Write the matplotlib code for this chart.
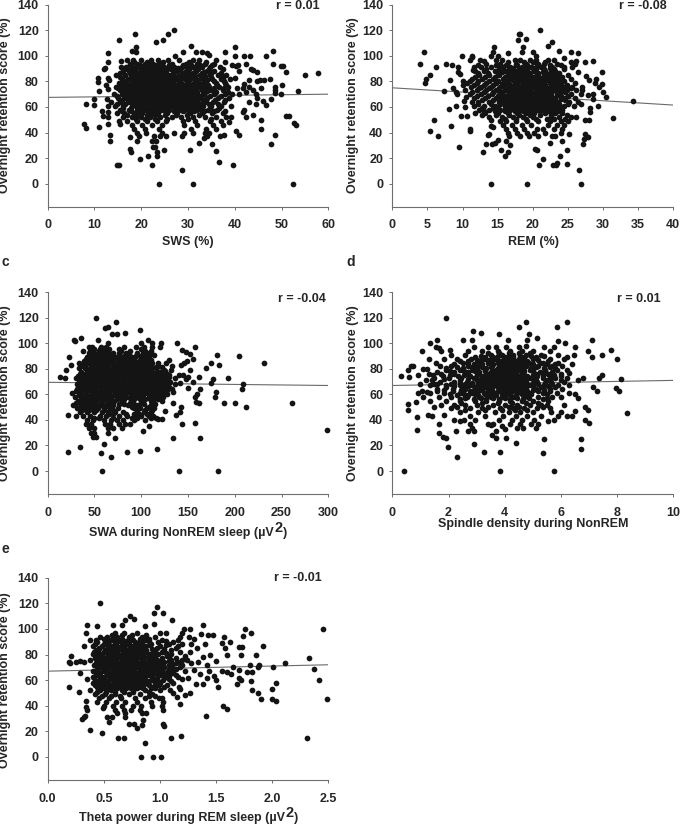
"""Five scatter panels: overnight retention score against sleep measures."""

import matplotlib
matplotlib.use("Agg")
import matplotlib.pyplot as plt

W, H = 680, 825
INK = "#262626"
AXIS = "#6e6e6e"

plt.rcParams.update({
    "font.family": ["Liberation Sans", "DejaVu Sans"],
    "font.weight": "bold",
    "font.size": 9,
    "axes.spines.top": False,
    "axes.spines.right": False,
})

Y_TICKS = [0, 20, 40, 60, 80, 100, 120, 140]

# scattered points as (x, y), dense clouds as (y, [x, ...]) rows
sws_pts = [(7.8,47),(8.2,43.5),(8.2,62.5),(10,66),(9.9,61.5),(10.7,83),(10.8,79.5),(10.9,72.5),(11,44.5),(11.7,57),
    (11.8,53),(12,90),(12.2,90.5),(12.7,66),(12.8,61),(12.5,77),(12.8,74),(12.9,56),(12.9,46.5),(13,52),(13,102),
    (13,95),(13,83),(13.2,81),(13.3,38),(13.3,33.5),(14.7,85),(14.8,14.5),(15.2,112.5),(15.3,15),(15.4,46.5),
    (15.6,96),(15.6,91),(17.5,36.5),(17.5,27),(17.8,25),(18,104),(18.7,117),(18.8,107),(18.8,103),(19.8,19),
    (21.5,22),(22.4,15),(23.4,24.5),(23.3,21.5),(23.2,110.5),(24.7,112.5),(24.9,26),(25.8,117),(27,120),(27.3,100),
    (28.7,11),(29,103),(30.5,26),(30.7,108),(23.7,0),(31.1,0),(52.4,0),(31.8,103),(32.4,32),(33,103),(33.4,36),
    (34,102),(34.5,101),(35.1,31),(36,25.5),(36.7,17),(38,103),(39.7,15),(40,100),(40.1,107),(40.3,41),(41,38),
    (42,100),(43.2,100),(42.3,94),(40.7,93),(38,95),(36,97),(46.7,100),(47.7,31),(48.1,94),(48.2,103.5),(48.5,38),
    (45.7,43),(45.7,50),(49.8,92),(50.4,92),(50,77.5),(49.9,70),(51,87),(50.9,53),(51.5,53),(52.7,47.5),(53.2,46),
    (53.5,72.5),(55,85),(57.8,86.5),(47.7,66.5),(46.7,61.5),(46,65),(47.5,82),(48.5,76),(48.7,73),(48.7,71),
    (45.6,75),(44.7,80),(45.5,81),(46.3,81),(44,89),(44.7,87),(43.4,90),(43,76),(43,81),(44,73),(44.5,70),(44.8,67),
    (44.5,62),(44,54),(42.5,52),(43,64),(42,58),(41.7,56),(41.8,75),(41,70),(40.5,75),(40,83),(39.5,70),(39.5,93),
    (39.3,52),(38.8,48),(38.2,52),(37.5,46),(37.8,38),(36.8,37),(41,88),(40.3,92),(42,78),(42.5,72)]
sws_rows = [
    (97, [17, 18.2, 20, 22, 23.6, 25.8, 28, 31, 32.4]),
    (95.5, [18.5, 21.2, 24.7, 30.2, 33.8]),
    (94, [17.6, 19, 20.8, 22.5, 24.3, 26.6, 29.5, 32, 33.6, 35.5]),
    (92.5, [17.8, 19.8, 21.8, 23.4, 26, 29, 30.6, 32.6, 35.2]),
    (91, [16.7, 18, 19.4, 21, 23, 24.8, 27, 28.8, 31, 33, 34.8, 36.8]),
    (89.5, [17, 18.7, 20.5, 22.3, 24.2, 26.3, 28.2, 30.3, 32.2, 34.4, 37.5]),
    (88, [16, 17.3, 18.6, 20, 21.6, 23.5, 25.4, 27.6, 30, 31.8, 34, 35.5]),
    (86.5, [15.5, 17.5, 19, 20.8, 22.4, 24.7, 26.7, 28.8, 31, 33, 35, 37]),
    (85, [16.6, 17.9, 19.2, 20.6, 22, 24, 26, 28.4, 30.6, 32.6, 34.6, 36.5, 38.2]),
    (83.5, [15.5, 17.9, 19.2, 20.9, 22.4, 23.9, 25.6, 27.2, 29, 30.8, 32.9, 34.9, 37.4]),
    (82, [15.8, 17.2, 18.4, 19.8, 21.2, 22.8, 24.8, 26.4, 27.8, 29.4, 31.2, 33.2, 35.2, 37, 39]),
    (80.5, [16.2, 18, 19.4, 20.9, 22.3, 23.7, 25.2, 26.7, 28.1, 29.7, 31.5, 33.5, 35.6, 37.8]),
    (79, [15.2, 16.6, 18, 19.2, 20.6, 22.2, 23.6, 25.2, 26.8, 28.4, 30, 31.8, 33.8, 36, 38]),
    (77.5, [15.7, 17.2, 18.6, 20, 21.4, 22.7, 24, 25.3, 26.5, 27.9, 29.3, 30.7, 32.5, 34.2, 36.2, 38.2]),
    (76, [14.6, 16, 17.4, 18.8, 20.2, 21.6, 23, 24.4, 25.8, 27.2, 28.8, 30.4, 32.2, 34.4, 36.6, 38.6]),
    (74.5, [15, 16.6, 18, 19.3, 20.6, 21.9, 23.2, 24.5, 25.7, 26.9, 28.1, 29.3, 30.6, 32, 33.6, 35.6, 37.8]),
    (73, [15.4, 16.8, 18.2, 19.6, 21, 22.4, 23.8, 25.2, 26.6, 28, 29.6, 31.2, 33, 35, 37.4]),
    (71.5, [16, 17.5, 18.9, 20.3, 21.7, 23.1, 24.4, 25.6, 26.8, 28, 29.2, 30.5, 32, 33.7, 36, 38.5]),
    (70, [14.2, 15.8, 17.2, 18.6, 20, 21.4, 22.8, 24.2, 25.6, 27, 28.4, 29.8, 31.4, 33.4, 35.6, 38]),
    (68.5, [14.8, 16.3, 17.7, 19.1, 20.5, 21.9, 23.2, 24.5, 25.7, 26.9, 28.1, 29.3, 30.6, 32.2, 34.8, 37]),
    (67, [15, 16.6, 18, 19.4, 20.8, 22.2, 23.6, 25, 26.4, 27.8, 29.2, 30.6, 32.2, 34, 36.4, 38.8]),
    (65.5, [15.8, 17.4, 18.8, 20.2, 21.6, 22.9, 24.2, 25.4, 26.6, 27.8, 29, 30.3, 31.8, 33.8, 35.8, 38]),
    (64, [13.6, 15.4, 17.2, 18.8, 20.2, 21.6, 23, 24.4, 25.8, 27.2, 28.6, 30.2, 32, 33.6, 35.4, 37.6]),
    (62.5, [14.8, 16.6, 18.4, 19.9, 21.3, 22.7, 24, 25.3, 26.5, 27.7, 29, 30.4, 32.2, 34.4, 36.4]),
    (61, [14.4, 16.2, 18, 19.6, 21, 22.4, 23.8, 25.2, 26.8, 28.2, 29.8, 31.4, 33.2, 35, 37, 39.2]),
    (59.5, [16, 17.8, 19.5, 21.2, 22.9, 24.5, 26, 27.5, 29.2, 30.9, 32.8, 34.8, 36.6]),
    (58, [15.4, 17.4, 19.2, 21, 22.6, 24.2, 26, 28, 30, 32, 34.2, 36.2]),
    (56.5, [15.8, 17.8, 19.6, 21.5, 23.2, 25, 27, 29, 31.2, 33.4, 35.6, 38]),
    (55, [14.8, 16.4, 18.4, 20.2, 22, 23.6, 25.6, 27.6, 30.4, 33, 35.2, 37.4]),
    (53.5, [17, 19.2, 21.2, 23, 25, 27.5, 29.8, 32.4]),
    (52, [16, 18, 20, 21.8, 24, 26.6, 28.6, 31, 33.6, 36]),
    (50.5, [18.8, 20.8, 23, 25.5, 30, 35]),
    (49, [15.2, 17, 19, 21.2, 23.4, 25.4, 29, 31.4, 34.6, 37]),
    (46, [18, 20.2, 22.4, 24.4, 29.2, 32, 35.4]),
    (43, [18.4, 20.8, 23.8, 30.6, 33.8, 36]),
    (40, [19, 21, 24.4, 27, 29.2, 31, 33.6, 34.4]),
    (37, [19.6, 22.8, 24, 25.4, 28.8, 34]),
    (33, [19.2, 22.2, 23.2]),
    (29, [22.5, 23]),
]
sws_core = [
    (90.25, [18.4, 20.2, 21.6, 24, 25.9, 27.9, 29.8, 32]),
    (87.25, [18.2, 19.8, 21.2, 23, 25, 27, 29.4, 31.5, 33.5]),
    (84.25, [18.6, 20, 21.4, 23.2, 24.9, 26.6, 27.9, 29.7, 31.6, 33.7]),
    (81.25, [17, 18.8, 20.2, 21.7, 23.1, 24.4, 25.6, 26.9, 28.3, 30.2, 32.1, 34]),
    (78.25, [17.9, 19.4, 20.8, 22.1, 23.4, 24.6, 25.9, 27.1, 28.2, 29.5, 31, 32.8]),
    (75.25, [17.7, 19.1, 20.4, 21.7, 22.9, 24, 25.2, 26.3, 27.5, 28.6, 29.8, 31.1, 33.4]),
    (72.25, [18, 19.3, 20.7, 22, 23.4, 24.7, 26, 27.3, 28.6, 29.9, 31.5, 34]),
    (69.25, [17.6, 19, 20.3, 21.5, 22.6, 23.8, 25, 26.2, 27.4, 28.6, 29.9, 31.2, 33]),
    (66.25, [18.4, 19.7, 21, 22.4, 23.7, 24.9, 26.1, 27.3, 28.5, 29.7, 31.2, 33]),
    (63.25, [18, 19.3, 20.7, 22, 23.2, 24.6, 25.8, 27.1, 28.4, 29.6, 31, 33]),
    (60.25, [19, 20.6, 22.2, 23.4, 24.8, 26.2, 27.6, 29, 30.6, 32.4]),
    (57.25, [20.4, 22, 23.6, 25.4, 27.2, 29.2, 31, 33]),
]

rem_pts = [(3.9,93.5),(4.5,103),(4.6,78.5),(4.8,82),(5.4,85),(5.4,41),(5.9,50),(6.2,91),(6.5,37.5),(7.3,72.5),(7.7,94),
    (8,58.5),(8.2,81),(8.3,45.5),(8.5,93),(8.7,75),(9,72),(9.2,70),(9.1,61),(9.3,91),(9.3,87),(9.5,28.5),(9.7,86),
    (9.8,53),(9.9,100),(10,80),(10,77),(10.2,65),(10.4,60),(10.7,53),(10.5,68),(11,80),(11.1,97),(11.3,99),(11.4,100),
    (11,41),(11.1,43),(11.3,64),(11.7,91),(11.5,89),(12.2,93),(12.5,97),(13,96),(12.9,25),(13.3,31),(13.6,38),
    (13.8,39),(14,0),(14.1,50),(14.1,45),(14.4,44),(14.2,31),(14.6,32),(14.1,100),(14.3,103),(14.5,107),(14.8,97),
    (15,100),(15,34.5),(15.5,26),(16,21.5),(16.4,25),(16.2,33),(16.7,30.5),(16.5,102),(17.5,97),(17.1,90),(17.9,112.5),
    (18,117),(18.2,117),(18.6,107),(18.5,103),(19,113),(19.2,0),(20,103),(20.4,100),(20.3,27),(20.6,26),(20.9,15),
    (21.4,19),(21,120),(22.1,108),(22.7,110.5),(22.5,32),(22.9,15),(23.3,15),(23.4,16.5),(23.9,22),(24.1,33),(24.5,98),
    (23.7,104),(24.8,26),(24.8,15.5),(25.2,39),(25.4,103),(25.5,95),(26.2,96),(26.5,102),(26.6,11),(26.9,0),(26.5,87),
    (27.2,31),(27.3,35),(27.4,95),(27.5,39),(27.9,36.5),(27.5,50),(28,50),(28.1,56),(28.1,59),(28.5,96),(27.6,84),
    (28,81),(28.6,70),(28.9,79),(29,82),(29.3,61),(29.4,76),(29.9,87.5),(29.9,78),(30,71.5),(30.4,68),(31.4,51),
    (34.3,65),(28.5,66),(27.8,69),(27,73),(26.8,62)]
rem_rows = [
    (97, [15.6, 18.2, 19.6, 20.4, 22.2, 23]),
    (95.5, [16.4, 18.8, 20, 21.8]),
    (94, [13.4, 15.4, 17.6, 19, 20.8, 21.6, 23.4, 26]),
    (92.5, [14.8, 16.2, 17.8, 19.2, 20.6, 22.4, 24]),
    (91, [12.6, 14, 15.8, 16.8, 18.4, 19.8, 21.2, 22.8, 24.4, 25.6]),
    (89.5, [13.4, 15.2, 16.6, 18, 19.2, 20.4, 21.6, 23, 24.4]),
    (88, [11.8, 13, 14.6, 16, 17.4, 18.8, 20.2, 21.8, 23.2]),
    (86.5, [12.2, 13.6, 15, 16.4, 17.4, 18.4, 19.6, 20.8, 22.4, 23.8]),
    (85, [12.4, 13.8, 15.2, 16.6, 17.8, 19.2, 20.6, 22, 23.6, 25]),
    (83.5, [11.8, 13.2, 14.6, 16, 17.2, 18, 19, 20, 21.4, 22.6, 24.2]),
    (82, [11.4, 12.8, 14.4, 15.8, 17, 18.2, 19.4, 20.8, 22.2, 23.8, 25.4]),
    (80.5, [12.2, 13.8, 15, 16.4, 17.4, 18.4, 19.4, 20.4, 21.6, 22.8, 24.4]),
    (79, [10.6, 12, 13.4, 14.8, 16.2, 17.4, 18.6, 19.8, 21, 22.4, 24, 26]),
    (77.5, [11.6, 13, 14.4, 15.8, 16.8, 17.6, 18.4, 19.2, 20, 20.8, 21.8, 23, 24.8]),
    (76, [11.2, 12.6, 14, 15.4, 16.6, 17.8, 19, 20.2, 21.4, 22.6, 24.4, 25.6, 27]),
    (74.5, [12.4, 13.8, 15.2, 16.4, 17.2, 18, 18.8, 19.6, 20.4, 21.2, 22, 23, 24.2, 25.4]),
    (73, [10.4, 12, 13.4, 14.8, 16, 17.2, 18.4, 19.6, 20.8, 22, 23.2, 24.8, 26.2]),
    (71.5, [11.4, 13, 14.4, 15.6, 16.6, 17.4, 18.2, 19, 19.8, 20.6, 21.4, 22.2, 23.4, 24.6]),
    (70, [11, 12.6, 14.2, 15.4, 16.6, 17.8, 19, 20.2, 21.4, 22.6, 23.8, 25.4, 26.8]),
    (68.5, [12, 13.6, 15, 16.2, 17, 17.8, 18.6, 19.4, 20.2, 21, 21.8, 22.6, 24, 25]),
    (67, [11.6, 13.2, 14.8, 16, 17.2, 18.4, 19.6, 20.8, 22, 23.2, 24.6, 26]),
    (65.5, [12.8, 14.4, 15.8, 16.8, 17.6, 18.4, 19.2, 20, 20.8, 21.6, 22.4, 23.2, 24.6]),
    (64, [12.2, 13.8, 15.2, 16.4, 17.6, 18.8, 20, 21.2, 22.4, 23.6, 25.2, 26.4]),
    (62.5, [12.2, 14, 15.4, 16.6, 17.6, 18.4, 19.2, 20, 20.8, 21.6, 22.6, 23.8, 25]),
    (61, [11.6, 13, 14.6, 16, 17.2, 18.4, 19.6, 20.8, 22, 23.2, 24.4, 25.8]),
    (59.5, [12.8, 14.4, 16, 17.2, 18.2, 19.2, 20.2, 21.2, 22.2, 23.4]),
    (58, [12.4, 13.8, 15.4, 16.8, 18, 19.2, 20.4, 21.6, 22.8, 24.2]),
    (56.5, [13, 14.6, 16, 17.4, 18.6, 19.8, 21, 22.2, 23.6]),
    (55, [11.8, 13.2, 15, 16.4, 17.8, 19, 20.2, 21.8, 23.2, 24.2]),
    (53.5, [12.8, 14.8, 16.6, 18, 19.6, 21, 22.6, 24.8]),
    (52, [13.8, 15.6, 17.2, 18.6, 20, 22.6, 23.8, 25.4, 26.2]),
    (50.5, [16, 17.6, 19, 20.4, 22, 23, 24.6]),
    (49, [15.4, 16.2, 17.6, 19.2, 20.8, 22.4, 24, 25]),
    (46, [15.8, 17, 18.4, 19.8, 22.2, 23.4, 24.4]),
    (43, [16.2, 17.4, 18.8, 20.6, 21.4, 23, 24.2]),
    (40, [16.4, 17.8, 19.2, 20.2, 21.8, 24]),
    (37, [16.6, 18.2, 19.4, 20.8, 22.8, 23.2]),
]
rem_core = [
    (90.25, [17.2, 18.6, 20, 21.4, 22.4]),
    (87.25, [15.6, 17, 18, 19.2, 20.4, 21.4, 22.8]),
    (84.25, [16.4, 17.6, 18.6, 19.6, 20.8, 22, 23.2]),
    (81.25, [16.2, 17.2, 18, 19, 20, 21, 22, 23.2]),
    (78.25, [15.6, 16.6, 17.8, 18.8, 19.6, 20.6, 21.4, 22.6, 23.6]),
    (75.25, [16, 17, 18.2, 19.2, 20, 20.8, 21.8, 22.6, 23.8]),
    (72.25, [15.2, 16.4, 17.2, 18, 18.8, 19.6, 20.4, 21.2, 22, 22.8, 24]),
    (69.25, [15.8, 16.8, 17.6, 18.4, 19.2, 20, 20.8, 21.6, 22.4, 23.4]),
    (66.25, [15.4, 16.4, 17.4, 18.2, 19, 19.8, 20.6, 21.4, 22.2, 23, 24]),
    (63.25, [15.8, 17, 18, 18.8, 19.6, 20.4, 21.2, 22, 23]),
    (60.25, [15, 16.4, 17.8, 18.8, 19.8, 20.6, 21.6, 22.6, 24]),
    (57.25, [14.6, 16.4, 17.8, 19.4, 20.8, 22, 23]),
]

swa_pts = [(13,74),(18.5,73),(20,79.5),(22,43.5),(22,15),(23,89),(25,83),(28,103),(29,102),(34,19),(36,104),(52,120),
    (54,103),(57,14.5),(58,0),(60,21.5),(61,112),(65,113),(68,11),(64,100),(72,26),(73,117),(69,107),(74,107),(83,108),
    (85,15),(99,110.5),(99,15.5),(100,100),(107,103),(112,100),(117,17),(102,31),(108,35),(118,41),(122,41),(125,47),
    (121,100),(120,97),(130,87),(134,26),(134,53),(138,100),(140,0),(141,46),(137,44),(143,50),(144,37),(144,95),
    (148,93),(152,92),(157,97),(158,37.5),(163,26),(163,64),(162,53),(159,54),(160,60),(162,74),(155,88),(169,81),
    (175,85),(175,69),(177,72),(180,62),(179,58),(181,91),(183,83),(189,53.5),(193,73),(200,53),(204,90),(208,64),
    (209,68),(212,50),(231,85),(261,53.5),(299,32),(182,0),(155,70),(150,65),(148,72),(146,85),(142,83),(140,75),
    (145,75),(130,74),(128,60),(150,74),(152,79),(136,68),(141,69),(133,82),(149,86),(158,58),(134,62)]
swa_rows = [
    (97, [44, 47, 57, 62, 82, 94, 103, 111]),
    (95.5, [50, 56, 60, 66, 76, 100]),
    (94, [38, 45, 55, 60, 64, 78, 88, 104, 110]),
    (92.5, [44, 50, 55, 60, 64, 70, 76, 84, 95, 102, 108]),
    (91, [47, 53, 58, 63, 70, 85, 96, 105, 114]),
    (89.5, [42, 47, 52, 57, 62, 67, 72, 80, 92, 101]),
    (88, [41, 50, 56, 61, 66, 74, 90, 100, 107]),
    (86.5, [39, 44, 49, 54, 59, 64, 69, 75, 82, 98, 105]),
    (85, [33, 45, 52, 58, 63, 69, 80, 87, 95, 112, 126]),
    (83.5, [35, 41, 46, 51, 56, 61, 66, 71, 76, 83, 90, 100, 108]),
    (82, [38, 48, 54, 60, 65, 71, 77, 85, 93, 103, 118]),
    (80.5, [33, 40, 45, 50, 55, 60, 65, 70, 75, 81, 87, 95, 105, 112]),
    (79, [44, 50, 56, 62, 67, 73, 80, 88, 98, 108, 124, 132]),
    (77.5, [36, 42, 47, 52, 57, 62, 67, 72, 77, 83, 90, 97, 105, 112, 120]),
    (76, [34, 39, 46, 52, 58, 64, 70, 76, 83, 92, 104, 114, 128]),
    (74.5, [32, 38, 44, 49, 54, 59, 64, 69, 74, 79, 85, 92, 99, 106, 112, 118, 124]),
    (73, [30, 37, 42, 48, 54, 60, 66, 72, 79, 86, 96, 102, 108, 114, 120, 136]),
    (71.5, [35, 41, 46, 51, 56, 61, 66, 71, 76, 82, 88, 95, 100, 105, 110, 115, 120, 126]),
    (70, [33, 40, 45, 51, 57, 63, 69, 75, 81, 90, 98, 105, 111, 117, 124, 131]),
    (68.5, [31, 38, 43, 48, 53, 58, 63, 68, 73, 78, 84, 90, 97, 103, 108, 113, 118, 123]),
    (67, [36, 42, 48, 54, 60, 66, 72, 78, 85, 93, 101, 107, 113, 120, 127]),
    (65.5, [34, 40, 46, 51, 56, 61, 66, 71, 76, 82, 88, 94, 100, 106, 111, 116, 121, 130]),
    (64, [31, 38, 45, 51, 57, 63, 69, 75, 82, 90, 97, 104, 110, 116, 122, 133]),
    (62.5, [30, 36, 42, 47, 52, 57, 62, 67, 72, 78, 84, 91, 99, 105, 110, 115, 120, 125]),
    (61, [26, 34, 41, 48, 54, 60, 66, 72, 80, 88, 96, 106, 112, 119, 126]),
    (59.5, [33, 40, 46, 51, 56, 61, 66, 71, 77, 83, 90, 98, 108, 114, 120]),
    (58, [29, 37, 44, 50, 56, 62, 68, 76, 84, 94, 102, 116, 123]),
    (56.5, [36, 42, 48, 53, 58, 63, 68, 74, 82, 92, 104, 118]),
    (55, [32, 40, 46, 52, 58, 64, 71, 80, 90, 100, 110, 122]),
    (53.5, [30, 38, 45, 51, 57, 63, 68, 78, 88, 100, 114]),
    (52, [27, 36, 43, 50, 56, 62, 70, 86, 97, 110]),
    (50.5, [34, 41, 48, 54, 60, 66, 90, 96, 108]),
    (49, [31, 39, 47, 54, 60, 67, 75, 92, 99, 106, 114]),
    (47.5, [37, 44, 52, 60, 70, 96, 104, 112]),
    (46, [35, 42, 50, 58, 65, 72, 80, 95, 103, 110]),
    (43, [30, 38, 45, 56, 62, 76, 85, 100, 108, 113]),
    (40, [42, 48, 60, 68, 74, 80, 92, 104]),
    (37, [41, 46, 61, 67, 76, 83, 88]),
    (34, [44, 50, 64, 70, 79]),
    (30, [46, 49, 65]),
    (27, [48, 52]),
]
swa_core = [
    (90.25, [76, 82, 88, 94, 100, 108]),
    (87.25, [78, 85, 92, 103, 110]),
    (84.25, [74, 78, 85, 92, 98, 104, 110, 118]),
    (81.25, [78, 83, 90, 98, 101, 109, 116, 122]),
    (78.25, [78, 85, 93, 100, 103, 110, 117, 125]),
    (75.25, [81, 88, 95, 101, 108, 116, 122, 130]),
    (72.25, [83, 91, 97, 103, 109, 113, 119, 125, 128]),
    (69.25, [83, 87, 93, 100, 106, 110, 116, 121, 128]),
    (66.25, [80, 86, 91, 97, 103, 109, 114, 118, 124]),
    (63.25, [80, 86, 93, 100, 106, 112, 118, 124, 128]),
    (60.25, [75, 82, 92, 102, 110, 118, 124]),
    (57.25, [78, 88, 98, 108, 114]),
    (52.5, [76, 82, 92, 103, 115]),
    (44.5, [66, 70, 84, 92, 98, 106]),
    (41.5, [50, 55, 70, 90, 96, 110, 116]),
]

spindle_pts = [(0.3,74.5),(0.43,0),(0.55,52.5),(0.55,47.5),(0.55,79),(0.6,74),(0.65,82),(0.75,82),(0.85,54),(0.88,42),
    (0.87,32.5),(0.92,61),(0.92,75),(1.05,94),(1.1,80),(1.25,80),(1.3,88),(1.27,44),(1.4,43),(1.35,100),(1.5,50),
    (1.55,97),(1.6,103),(1.65,96),(1.65,37),(1.65,30),(1.8,27),(1.9,26),(1.85,44),(1.9,120),(1.98,18.5),(2.05,95),
    (2.2,40),(2.27,31),(2.3,11),(2.4,39),(2.5,103),(2.55,40),(2.7,31),(2.9,21),(2.9,31),(2.85,103),(2.87,110),(3.15,108),
    (3.27,15),(3.4,97),(3.4,37),(3.5,36),(3.55,28.5),(3.7,26),(3.7,31),(3.82,0),(3.85,15),(3.8,107),(3.9,35),(4,33),
    (4.05,26),(4.1,103),(4.4,22),(4.5,112.5),(4.75,117),(4.75,98),(4.8,103),(4.85,107),(5.15,104),(5.1,34),(5.35,14.5),
    (5.4,25),(5.3,52),(5.55,39),(5.77,0),(5.85,113),(5.9,102),(6.2,117),(6.15,100),(6.3,67),(6.5,97),(6.7,25),(6.72,17),
    (6.5,47),(6.85,40),(6.85,50),(6.97,48),(7,37.5),(6.95,94),(7.1,103),(7.1,89),(7.15,66),(7.3,62.5),(7.35,72.5),
    (7.45,75),(7.45,91),(7.8,94.5),(8,88),(7.95,65),(8.07,62.5),(8.15,72),(8.37,45.5),(6.8,73),(6.6,71),(6.45,91),(6.2,89),
    (1,68),(1.05,63),(1.1,58),(1.2,71),(1.25,62),(1.35,55),(1.45,75),(1.5,68),(6.4,84),(6.3,77),(6.5,60),(6.6,57),(6.4,43)]
spindle_rows = [
    (97, [2.9, 3.7, 4.05, 4.5, 5.4, 5.75]),
    (94, [1.75, 2.7, 3.2, 3.75, 4.2, 4.6, 5, 5.6]),
    (92.5, [3.4, 3.8, 4.15, 4.5, 4.9]),
    (91, [2.1, 2.6, 3.5, 3.9, 4.3, 4.75, 5.3, 5.9]),
    (89.5, [2.95, 3.3, 3.6, 4, 4.3, 4.7, 5.1]),
    (88, [1.85, 2.3, 2.8, 3.3, 3.7, 4.1, 4.5, 5, 5.6, 6.1]),
    (86.5, [2.4, 2.7, 3.15, 3.55, 3.8, 4.2, 4.4, 4.8, 5.55]),
    (85, [1.55, 2.5, 3, 3.5, 3.9, 4.3, 4.7, 5.35, 5.9]),
    (83.5, [2.2, 2.9, 3.2, 3.6, 3.85, 4.1, 4.4, 4.6, 5, 5.5, 5.8]),
    (82, [1.7, 2.1, 2.7, 3.1, 3.55, 3.95, 4.35, 4.75, 5.2, 5.7, 6.05]),
    (80.5, [1.9, 2.5, 3, 3.35, 3.75, 4, 4.25, 4.55, 4.95, 5.4, 5.8]),
    (79, [1.9, 2.4, 2.85, 3.3, 3.7, 4.1, 4.5, 4.9, 5.45, 5.85, 6.2]),
    (77.5, [1.6, 2.2, 2.7, 3.1, 3.5, 3.8, 4.05, 4.3, 4.6, 5.25, 5.7]),
    (76, [1.3, 1.75, 2.2, 2.65, 3.05, 3.45, 3.85, 4.25, 4.65, 5.1, 5.55, 6]),
    (74.5, [1.8, 2.35, 2.75, 3.2, 3.5, 3.8, 4.05, 4.3, 4.55, 4.8, 5.15, 5.6, 6]),
    (73, [1.5, 2, 2.45, 2.9, 3.3, 3.7, 4.1, 4.5, 4.9, 5.35, 5.8, 6.2]),
    (71.5, [1.4, 2.4, 3, 3.3, 3.55, 3.8, 4.05, 4.3, 4.55, 4.75, 5.1, 5.5, 6]),
    (70, [1.7, 2.2, 2.65, 3.05, 3.45, 3.85, 4.25, 4.65, 5.15, 5.65, 6.1]),
    (68.5, [1.6, 2.1, 2.6, 3.05, 3.3, 3.55, 3.8, 4.05, 4.3, 4.55, 4.8, 5.2, 5.7]),
    (67, [1.35, 1.9, 2.4, 2.85, 3.25, 3.65, 4.05, 4.45, 4.85, 5.4, 5.9]),
    (65.5, [1.9, 2.5, 2.95, 3.25, 3.5, 3.75, 4, 4.25, 4.5, 4.75, 5.3, 5.8]),
    (64, [1.6, 2.15, 2.6, 3, 3.4, 3.8, 4.2, 4.6, 5.1, 5.6, 6.05]),
    (62.5, [1.6, 2.15, 2.75, 3.05, 3.4, 3.75, 4, 4.25, 4.5, 4.8, 5.2, 5.6]),
    (61, [1.35, 1.85, 2.4, 2.85, 3.25, 3.65, 4.05, 4.45, 4.85, 5.35, 5.85, 6.3]),
    (59.5, [2.3, 2.7, 3.05, 3.4, 3.7, 4.05, 4.4, 4.75]),
    (58, [1.65, 2.1, 2.65, 3.1, 3.5, 3.9, 4.3, 4.7, 5.2, 5.7, 6]),
    (56.5, [2.4, 2.9, 3.35, 3.8, 4.2, 4.65, 5.35]),
    (55, [1.9, 2.4, 2.95, 3.35, 3.8, 4.2, 4.6, 5, 5.55]),
    (52, [1.75, 2.2, 2.6, 3, 3.6, 4, 4.45, 4.9, 5.5, 6.1]),
    (49, [2.1, 2.75, 3.2, 3.85, 4.3, 4.7, 5.15, 5.6]),
    (46, [2.4, 3.05, 3.65, 4.15, 4.55, 5, 5.65, 6]),
    (43, [2.75, 3.3, 3.95, 4.4, 4.8, 5.3, 5.9, 6.2]),
    (40, [2.95, 3.8, 4.25, 4.6, 5.05, 5.75]),
    (37, [2.75, 3.6, 4.2, 4.55, 4.95, 5.2]),
    (34, [2.85, 4.45, 4.65]),
]
spindle_core = [
    (90.25, [3.15, 3.75, 4.15, 4.55, 4.95, 5.4]),
    (87.25, [3, 3.45, 3.95, 4.3, 4.65, 5.2]),
    (84.25, [2.7, 3.4, 3.75, 4, 4.25, 4.5, 4.85, 5.25]),
    (81.25, [2.3, 2.85, 3.2, 3.5, 3.85, 4.15, 4.45, 4.7, 5.1, 5.6]),
    (78.25, [2.05, 2.55, 2.95, 3.3, 3.6, 3.9, 4.15, 4.4, 4.7, 5, 5.45]),
    (75.25, [2.05, 2.55, 3, 3.35, 3.65, 3.95, 4.2, 4.45, 4.7, 5, 5.35, 5.75]),
    (72.25, [1.85, 2.7, 3.15, 3.45, 3.7, 3.95, 4.2, 4.45, 4.65, 5, 5.6]),
    (69.25, [2.4, 2.85, 3.2, 3.45, 3.7, 3.95, 4.2, 4.4, 4.65, 5, 5.45]),
    (66.25, [2.2, 2.7, 3.1, 3.35, 3.6, 3.85, 4.15, 4.35, 4.6, 5, 5.55]),
    (63.25, [1.85, 2.45, 2.9, 3.2, 3.55, 3.9, 4.15, 4.35, 4.7, 5, 5.4]),
    (60.25, [2.05, 2.55, 2.95, 3.3, 3.55, 3.9, 4.2, 4.6, 4.95, 5.5]),
    (57.25, [2.6, 3.15, 3.6, 4, 4.45, 4.85, 5.5]),
    (53.5, [2.45, 3.2, 3.75, 4.25, 4.75, 5.2]),
    (50.5, [2.3, 3.4, 4.15, 4.5, 5.35]),
    (47.5, [2.6, 3.3, 3.9, 4.35, 4.8]),
]

theta_pts = [(0.19,54.5),(0.19,74),(0.2,73),(0.21,79),(0.25,74),(0.28,51),(0.29,65.5),(0.29,75),(0.32,74),(0.31,30),
    (0.32,31),(0.33,32),(0.32,86.5),(0.34,97),(0.35,103),(0.34,43.5),(0.34,39),(0.35,37),(0.38,21),(0.44,102),(0.47,120),
    (0.48,19),(0.49,38),(0.53,31),(0.55,27.5),(0.58,103),(0.63,15),(0.68,15),(0.66,103),(0.69,107),(0.73,110),(0.77,108),
    (0.72,26),(0.77,26),(0.8,22.5),(0.84,25),(0.85,28.5),(0.83,0),(0.87,11),(0.87,102),(0.94,0),(1.01,0),(0.95,104),
    (0.95,112.5),(0.97,117),(1.03,112.5),(1.03,26),(1.04,24.5),(1.1,14.5),(1.11,107),(1.19,16.5),(1.18,41),(1.15,47),
    (1.2,97),(1.21,100),(1.27,100),(1.38,103),(1.41,32),(1.52,54.5),(1.56,40),(1.6,37.5),(1.57,94),(1.47,95),(1.37,96),
    (1.62,89.5),(1.55,89),(1.58,85),(1.7,86),(1.73,86),(1.72,80),(1.74,94.5),(1.76,100),(1.81,97),(1.69,57),(1.72,60),
    (1.7,62),(1.82,52.5),(1.87,50),(1.9,45.5),(1.81,59),(1.78,66),(1.82,66),(1.87,70),(1.88,72),(1.86,80),(1.92,87),
    (2.0,53),(2.0,45),(2.03,44),(2.01,70.5),(2.03,58),(2.11,73),(2.31,15),(2.33,77),(2.37,69),(2.42,60),(2.45,100),
    (2.49,45),(1.8,72),(1.65,70),(1.6,66),(1.5,75),(1.45,80),(1.4,88),(1.33,85),(1.3,92),(1.42,72),(1.44,67),(1.36,65),
    (1.32,57),(1.38,57),(1.27,50),(1.22,48),(1.48,63),(1.55,67),(1.6,80),(1.5,60),(1.42,62),(1.43,95),(1.38,78),(1.34,74),
    (1.3,68),(1.25,62),(1.24,76),(1.28,88),(1.18,53),(1.12,50),(1.7,68),(1.63,65)]
theta_rows = [
    (97, [0.6, 0.68, 0.8, 1, 1.05]),
    (95.5, [0.57, 0.66, 0.75, 0.88]),
    (94, [0.47, 0.53, 0.62, 0.72, 0.84, 0.96, 1.18, 1.26]),
    (92.5, [0.5, 0.58, 0.66, 0.74, 0.82, 0.9]),
    (91, [0.38, 0.43, 0.56, 0.65, 0.76, 0.88, 1.02, 1.16]),
    (89.5, [0.44, 0.52, 0.6, 0.66, 0.72, 0.78, 0.84, 0.98, 1.12]),
    (88, [0.42, 0.5, 0.6, 0.7, 0.8, 0.92, 1.08, 1.2]),
    (86.5, [0.4, 0.48, 0.56, 0.62, 0.68, 0.74, 0.8, 0.87, 1.0, 1.16]),
    (85, [0.46, 0.55, 0.64, 0.74, 0.84, 0.97, 1.14]),
    (83.5, [0.43, 0.51, 0.57, 0.63, 0.69, 0.75, 0.81, 0.88, 0.96, 1.1]),
    (82, [0.41, 0.5, 0.59, 0.68, 0.78, 0.88, 1.02, 1.18, 1.27]),
    (80.5, [0.4, 0.48, 0.54, 0.6, 0.66, 0.72, 0.78, 0.84, 0.9, 0.98, 1.1]),
    (79, [0.45, 0.54, 0.63, 0.72, 0.82, 0.93, 1.06, 1.22]),
    (77.5, [0.42, 0.5, 0.56, 0.62, 0.68, 0.74, 0.8, 0.86, 0.92, 1.02, 1.14]),
    (76, [0.38, 0.48, 0.57, 0.66, 0.75, 0.85, 0.97, 1.1, 1.2]),
    (74.5, [0.46, 0.53, 0.59, 0.65, 0.71, 0.77, 0.83, 0.89, 0.95, 1.04, 1.16]),
    (73, [0.43, 0.52, 0.61, 0.7, 0.79, 0.89, 1, 1.14, 1.28]),
    (71.5, [0.41, 0.49, 0.56, 0.62, 0.68, 0.74, 0.8, 0.86, 0.92, 0.98, 1.08, 1.2]),
    (70, [0.46, 0.55, 0.64, 0.73, 0.82, 0.92, 1.04, 1.18]),
    (68.5, [0.44, 0.52, 0.58, 0.64, 0.7, 0.76, 0.82, 0.88, 0.94, 1, 1.08, 1.14]),
    (67, [0.4, 0.5, 0.59, 0.68, 0.77, 0.87, 0.98, 1.1, 1.22]),
    (65.5, [0.47, 0.55, 0.6, 0.66, 0.72, 0.78, 0.84, 0.9, 0.96, 1.03, 1.12]),
    (64, [0.43, 0.53, 0.62, 0.71, 0.8, 0.9, 1.02, 1.14]),
    (62.5, [0.4, 0.5, 0.57, 0.63, 0.69, 0.75, 0.81, 0.87, 0.93, 1.05, 1.16]),
    (61, [0.35, 0.47, 0.56, 0.65, 0.74, 0.84, 0.95, 1.08, 1.2]),
    (59.5, [0.45, 0.53, 0.6, 0.66, 0.72, 0.78, 0.84, 0.9, 0.98, 1.1]),
    (58, [0.4, 0.5, 0.59, 0.68, 0.78, 0.88, 1, 1.12]),
    (56.5, [0.42, 0.5, 0.57, 0.64, 0.7, 0.76, 0.82, 0.9, 0.99, 1.06]),
    (55, [0.44, 0.53, 0.62, 0.72, 0.83, 0.94, 1.04, 1.17]),
    (53.5, [0.46, 0.55, 0.62, 0.7, 0.78, 0.85, 0.96]),
    (52, [0.38, 0.47, 0.56, 0.66, 0.76, 0.87, 1, 1.09]),
    (50.5, [0.44, 0.52, 0.6, 0.68, 0.76, 0.9]),
    (49, [0.42, 0.51, 0.6, 0.72, 0.82, 0.93]),
    (47.5, [0.48, 0.56, 0.64, 0.9, 0.96]),
    (46, [0.46, 0.55, 0.65, 0.78, 0.87, 0.99, 1.02]),
    (43, [0.44, 0.52, 0.61, 0.69, 0.8, 0.92, 1.03]),
    (40, [0.5, 0.58, 0.66, 0.76, 0.83, 0.93, 1.02]),
    (37, [0.6, 0.68, 0.74, 0.82, 1.03]),
    (34, [0.62, 0.69, 0.84, 0.88]),
    (31, [0.57, 0.69]),
]
theta_core = [
    (90.25, [0.55, 0.63, 0.7, 0.82, 0.9, 1.05]),
    (87.25, [0.53, 0.6, 0.66, 0.72, 0.78, 0.84, 0.9, 1.05]),
    (84.25, [0.46, 0.54, 0.6, 0.66, 0.72, 0.78, 0.85, 0.93, 1.04]),
    (81.25, [0.45, 0.56, 0.62, 0.7, 0.75, 0.81, 0.86, 0.94, 1.05]),
    (78.25, [0.47, 0.53, 0.59, 0.65, 0.71, 0.77, 0.83, 0.89, 0.96, 1.08]),
    (75.25, [0.44, 0.5, 0.55, 0.61, 0.67, 0.73, 0.79, 0.85, 0.91, 1, 1.08]),
    (72.25, [0.46, 0.53, 0.59, 0.65, 0.71, 0.77, 0.83, 0.89, 0.95, 1.02, 1.11]),
    (69.25, [0.48, 0.54, 0.6, 0.66, 0.72, 0.78, 0.84, 0.9, 0.96, 1.03, 1.12]),
    (66.25, [0.44, 0.52, 0.57, 0.63, 0.69, 0.75, 0.81, 0.87, 0.93, 1, 1.06]),
    (63.25, [0.47, 0.55, 0.6, 0.66, 0.72, 0.78, 0.84, 0.93, 0.98, 1.08]),
    (60.25, [0.42, 0.5, 0.58, 0.63, 0.69, 0.75, 0.81, 0.87, 0.93, 1.03]),
    (57.25, [0.47, 0.55, 0.62, 0.67, 0.73, 0.8, 0.86, 0.96]),
    (54, [0.5, 0.58, 0.66, 0.74, 0.8, 0.92]),
]

sws_line = ([0, 60], [67.5, 70])
rem_line = ([0, 40], [75, 61.5])
swa_line = ([0, 300], [69.5, 67])
spindle_line = ([0, 10], [67, 71])
theta_line = ([0, 2.5], [67, 72])

PANELS = [
    dict(pts=sws_pts, rows=sws_rows + sws_core, line=sws_line, xlim=60, xticks=[0, 10, 20, 30, 40, 50, 60],
         xfmt="{:d}", box=(47.7, 4.7, 328.3, 206.7), r="r = 0.01", r_xy=(298, 6),
         label="SWS (%)", label_xy=(188, 242), ylab_x=5.5, ylab_y=105),
    dict(pts=rem_pts, rows=rem_rows + rem_core, line=rem_line, xlim=40, xticks=[0, 5, 10, 15, 20, 25, 30, 35, 40],
         xfmt="{:d}", box=(392.3, 4.7, 673.3, 206.7), r="r = -0.08", r_xy=(643, 6),
         label="REM (%)", label_xy=(533, 242), ylab_x=352.7, ylab_y=105),
    dict(pts=swa_pts, rows=swa_rows + swa_core, line=swa_line, xlim=300, xticks=[0, 50, 100, 150, 200, 250, 300],
         xfmt="{:d}", box=(47.7, 292.3, 328.3, 494), r="r = -0.04", r_xy=(302, 299),
         label="SWA during NonREM sleep (µV", label_xy=(188, 533), ylab_x=5.5, ylab_y=393),
    dict(pts=spindle_pts, rows=spindle_rows + spindle_core, line=spindle_line, xlim=10, xticks=[0, 2, 4, 6, 8, 10],
         xfmt="{:d}", box=(392.3, 292.3, 673.3, 494), r="r = 0.01", r_xy=(639, 299),
         label="Spindle density during NonREM", label_xy=(533, 524), ylab_x=352.7, ylab_y=393),
    dict(pts=theta_pts, rows=theta_rows + theta_core, line=theta_line, xlim=2.5, xticks=[0.0, 0.5, 1.0, 1.5, 2.0, 2.5],
         xfmt="{:.1f}", box=(47.7, 577.7, 328.3, 780), r="r = -0.01", r_xy=(298, 578),
         label="Theta power during REM sleep (µV", label_xy=(188, 818), ylab_x=5.5, ylab_y=680),
]
LETTERS = [("c", 5, 262), ("d", 351, 262), ("e", 5, 549)]


def fx(px):
    return px / W


def fy(py):
    return 1 - py / H


def unpack(pts, rows):
    xs = [p[0] for p in pts]
    ys = [p[1] for p in pts]
    for y, row in rows:
        xs += row
        ys += [y] * len(row)
    return xs, ys


def axis_label(fig, text, x, y):
    # the unit in two labels ends in a big raised 2, so it is set piece by piece
    if not text.endswith("µV"):
        fig.text(fx(x), fy(y), text, ha="center", va="center", color=INK)
        return
    renderer = fig.canvas.get_renderer()
    t = fig.text(0, fy(y), text, ha="left", va="center", color=INK)
    two = fig.text(0, fy(y - 5), "2", ha="left", va="center", color=INK, fontsize=10.5)
    close = fig.text(0, fy(y), ")", ha="left", va="center", color=INK)
    w_text = t.get_window_extent(renderer).width
    w_two = two.get_window_extent(renderer).width
    w_close = close.get_window_extent(renderer).width
    left = x - (w_text + w_two + w_close) / 2
    t.set_x(fx(left))
    two.set_x(fx(left + w_text + 0.5))
    close.set_x(fx(left + w_text + w_two + 1))


def draw_panel(fig, p):
    x0, top, x1, bottom = p["box"]
    ax = fig.add_axes([fx(x0), fy(bottom), (x1 - x0) / W, (bottom - top) / H])
    xs, ys = unpack(p["pts"], p["rows"])
    ax.plot(*p["line"], color="#6a6a6a", lw=0.8, zorder=1)
    ax.scatter(xs, ys, s=17, color="#141414", linewidths=0, zorder=2, clip_on=False)
    ax.set_xlim(0, p["xlim"])
    ax.set_ylim(-18, 140)
    ax.set_yticks(Y_TICKS)
    ax.set_xticks(p["xticks"])
    ax.set_xticklabels([p["xfmt"].format(v) for v in p["xticks"]])
    ax.tick_params(axis="x", length=2, width=0.7, color=AXIS, pad=7, labelcolor=INK)
    ax.tick_params(axis="y", length=2.5, width=0.7, color=AXIS, pad=4, labelcolor=INK)
    for side in ("left", "bottom"):
        ax.spines[side].set_color(AXIS)
        ax.spines[side].set_linewidth(0.8)

    fig.text(fx(p["r_xy"][0]), fy(p["r_xy"][1]), p["r"], ha="center", va="center", color=INK)
    fig.text(fx(p["ylab_x"]), fy(p["ylab_y"]), "Overnight retention score (%)", rotation=90,
             ha="center", va="center", color=INK)
    axis_label(fig, p["label"], *p["label_xy"])


def main():
    fig = plt.figure(figsize=(W / 100, H / 100), dpi=100)
    fig.canvas.draw()
    for p in PANELS:
        draw_panel(fig, p)
    for letter, x, y in LETTERS:
        fig.text(fx(x), fy(y), letter, ha="center", va="center", color=INK, fontsize=10)
    fig.savefig("out.png", dpi=100)


if __name__ == "__main__":
    main()
